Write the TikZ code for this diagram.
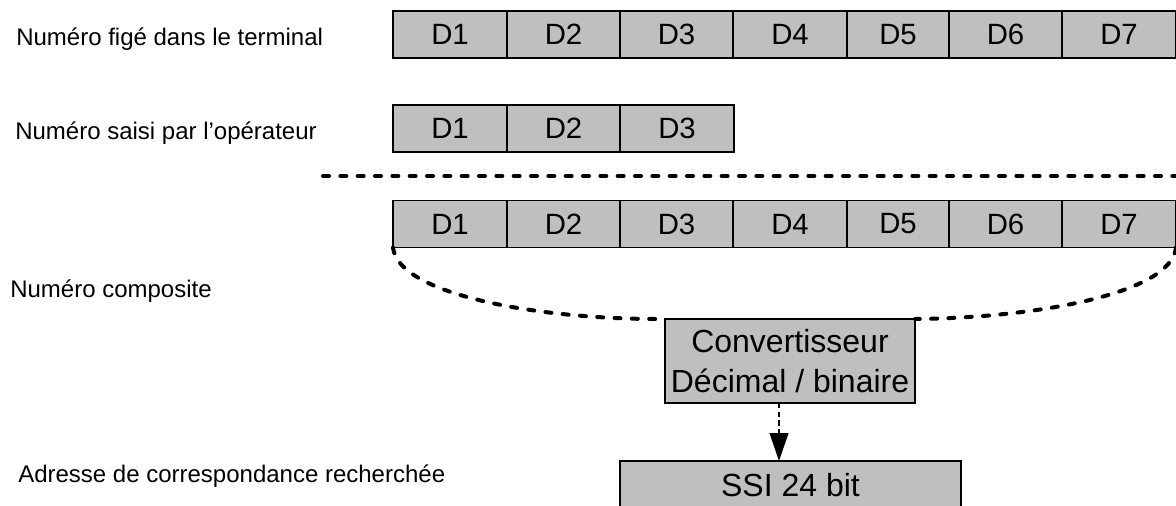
\documentclass[tikz,border=0pt]{standalone}
\usepackage{fontspec}
\setmainfont{Liberation Sans}
\usetikzlibrary{arrows.meta}
\definecolor{cellgray}{RGB}{191,191,191}

\begin{document}
\begin{tikzpicture}[x=0.75pt,y=-0.75pt,
  cell/.style={draw,line width=1pt,fill=cellgray,inner sep=0pt,outer sep=0pt,
    minimum height=35.25pt,font=\fontsize{22}{26}\selectfont},
  unit/.style={draw,line width=1pt,fill=cellgray,inner sep=0pt,outer sep=0pt,
    align=center,font=\fontsize{24}{30}\selectfont},
  caption/.style={anchor=west,inner sep=0pt,font=\fontsize{18}{22}\selectfont},
  sep/.style={line width=3pt,line cap=round,dash pattern=on 4.5pt off 8.5pt},
  flow/.style={line width=1.5pt,dash pattern=on 4pt off 2.5pt,
    -{Triangle[width=14pt,length=21pt]}}]
\useasboundingbox (0,0) rectangle (1176,506);
% rows of digits
\foreach \n/\xa/\xb in {1/393/507,2/507/620,3/620/733,4/733/847,5/847/949,6/949/1062,7/1062/1176}{
  \node[cell,minimum width={(\xb-\xa)*0.75pt}] (fix\n) at ({(\xa+\xb)/2},34.5) {D\n};
  \node[cell,minimum width={(\xb-\xa)*0.75pt}] (comp\n) at ({(\xa+\xb)/2},224) {D\n};
}
\foreach \n/\xa/\xb in {1/393/507,2/507/620,3/620/734}
  \node[cell,minimum width={(\xb-\xa)*0.75pt}] (op\n) at ({(\xa+\xb)/2},128.5) {D\n};
% converter and result
\node[unit,minimum width=187.5pt,minimum height=63pt] (conv) at (790,361) {Convertisseur\\Décimal / binaire};
\node[unit,minimum width=255.75pt,minimum height=36pt] (ssi) at (790.5,485) {SSI 24 bit};
% captions
\node[caption] (lfix) at (16,39) {Numéro figé dans le terminal};
\node[caption] (lop) at (15,133) {Numéro saisi par l’opérateur};
\node[caption] (lcomp) at (10,291) {Numéro composite};
\node[caption] (ladr) at (18,476) {Adresse de correspondance recherchée};
% separator
\coordinate (sepL) at (323,176);
\coordinate (sepR) at (1176,176);
\draw[sep] (sepL) -- (sepR);
% merging curves
\coordinate (mergeL) at ([xshift=-6pt]conv.north west);
\draw[sep] (comp1.south west) .. controls (398,295) and (540,319) .. (mergeL);
\draw[sep] (comp7.south east) .. controls (1171,295) and (1030,318) .. (conv.north east);
% conversion
\coordinate (arrtop) at ([xshift=-8.25pt]conv.south);
\draw[flow] (arrtop) -- (arrtop |- ssi.north);
\end{tikzpicture}
\end{document}
